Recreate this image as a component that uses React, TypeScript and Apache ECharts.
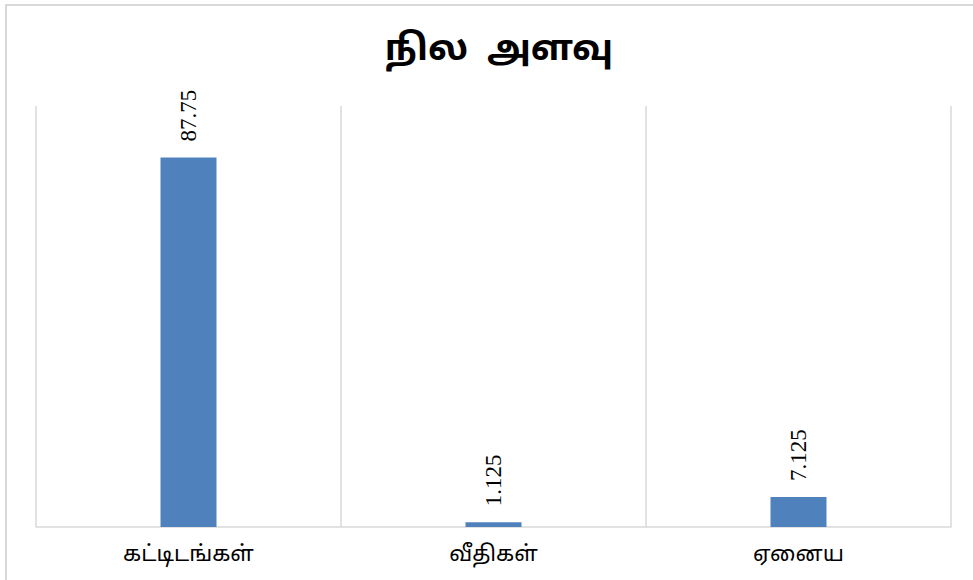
import React, { useEffect, useRef } from "react";
import * as echarts from "echarts";

const titleText = "நில  அளவு";
const categories = ["கட்டிடங்கள்", "வீதிகள்", "ஏனைய"];
const values = [87.75, 1.125, 7.125];

const tamilFont = "'Noto Sans Tamil', Latha, 'Lohit Tamil', 'Noto Sans', sans-serif";

export default function App() {
  const ref = useRef<HTMLDivElement>(null);
  useEffect(() => {
    if (!ref.current) return;
    const chart = echarts.init(ref.current, null, { renderer: "svg" });
    chart.setOption({
      animation: false,
      backgroundColor: "#ffffff",
      title: {
        text: titleText,
        left: 494,
        textAlign: "center",
        top: 28,
        textStyle: { fontSize: 36, fontWeight: "bold", color: "#000", fontFamily: tamilFont },
      },
      graphic: [
        {
          type: "rect",
          shape: { x: 6, y: 5, width: 1000, height: 600 },
          style: { fill: "none", stroke: "#d9d9d9", lineWidth: 2 },
          silent: true,
        },
      ],
      grid: { left: 36, right: 22, top: 106, bottom: 53 },
      xAxis: {
        type: "category",
        data: categories,
        axisLine: { show: true, lineStyle: { color: "#d9d9d9", width: 1.5 } },
        axisTick: { show: false },
        splitLine: { show: true, lineStyle: { color: "#d9d9d9", width: 1.5 } },
        axisLabel: { fontSize: 22, color: "#000", fontFamily: tamilFont, margin: 17 },
      },
      yAxis: {
        type: "value",
        min: 0,
        max: 100,
        show: false,
        splitLine: { show: false },
      },
      series: [
        {
          type: "bar",
          data: values,
          barWidth: 56,
          itemStyle: { color: "#4f81bd" },
          label: {
            show: true,
            position: "top",
            rotate: 90,
            distance: 16,
            align: "left",
            verticalAlign: "middle",
            fontFamily: "'Liberation Serif', 'Times New Roman', serif",
            fontSize: 23,
            color: "#000",
          },
        },
      ],
    });
    return () => chart.dispose();
  }, []);
  return (
    <div
      ref={ref}
      style={{ position: "fixed", left: 0, top: 0, width: 973, height: 580 }}
    />
  );
}
